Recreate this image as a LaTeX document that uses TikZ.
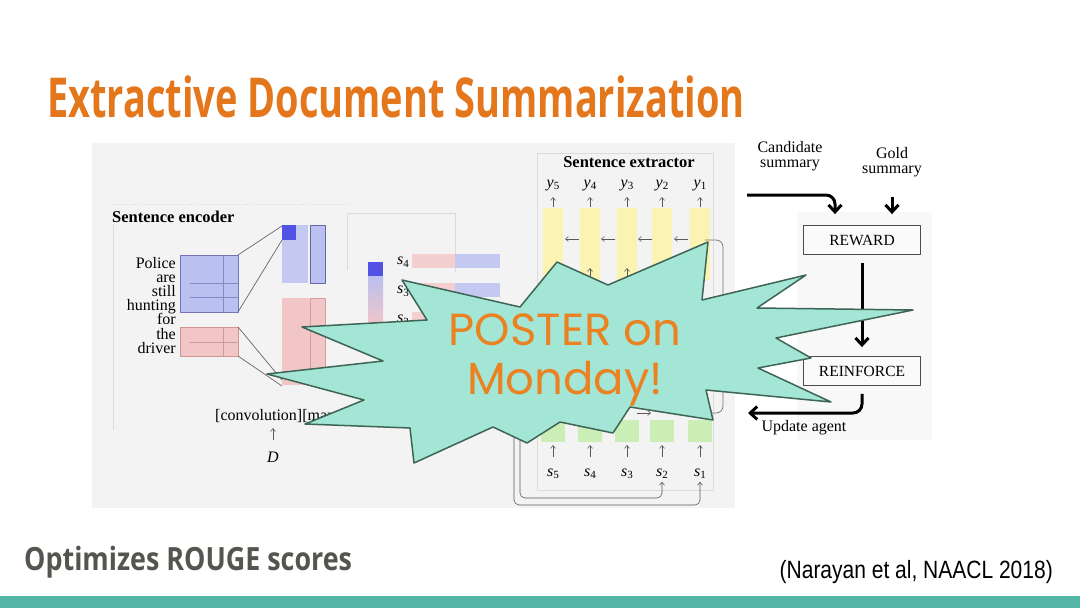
\documentclass[tikz,border=0pt]{standalone}
\usepackage{fontspec}
\usetikzlibrary{arrows.meta}
\setmainfont{Liberation Serif}
\newfontfamily\titlefont{Open Sans}
\newfontfamily\citefont{Liberation Sans}
\newfontfamily\posterfont{Poppins}
\definecolor{titleorange}{RGB}{228,118,28}
\definecolor{slidegray}{RGB}{85,85,80}
\definecolor{barteal}{RGB}{82,181,165}
\definecolor{figbg}{RGB}{243,243,243}
\definecolor{encblue}{RGB}{186,192,240}
\definecolor{encdark}{RGB}{82,82,228}
\definecolor{encred}{RGB}{242,198,198}
\definecolor{extyellow}{RGB}{250,243,178}
\definecolor{extgreen}{RGB}{202,238,182}
\definecolor{starfill}{RGB}{163,230,214}
\definecolor{starline}{RGB}{62,100,86}
\definecolor{posterorange}{RGB}{234,130,34}
\newcommand{\idx}[2]{\textit{#1}\raisebox{-0.35ex}{\fontsize{11}{11}\selectfont #2}}
\tikzset{
  figtext/.style={inner sep=0pt, font=\fontsize{16}{16}\selectfont},
  faint/.style={draw=black!14, line width=0.8pt},
  thinarrow/.style={-{Straight Barb[length=3pt,width=5pt]}, line width=0.6pt, draw=black!65},
  loopline/.style={thinarrow, rounded corners=5pt},
  flowarrow/.style={-{Straight Barb[length=7pt,width=13pt]}, line width=3pt, rounded corners=9pt},
  stagebox/.style={draw=black!70, line width=0.8pt, fill=white!55!figbg, minimum width=117pt,
    minimum height=29pt, inner sep=0pt, font=\fontsize{15.5}{16}\selectfont},
}
\begin{document}
\begin{tikzpicture}[x=1pt, y=-1pt, line join=round]
\useasboundingbox (0,0) rectangle (1080,608);
\fill[white] (0,0) rectangle (1080,608);
% slide title, note and footer
\node (title) [anchor=base west, inner sep=0pt, text=titleorange] at (47,117)
  {\titlefont\bfseries\fontsize{55}{60}\selectfont\scalebox{0.69}[1]{Extractive Document Summarization}};
\node (note) [anchor=base west, inner sep=0pt, text=slidegray] at (24,570)
  {\titlefont\bfseries\fontsize{32}{36}\selectfont\scalebox{0.84}[1]{Optimizes ROUGE scores}};
\node (cite) [anchor=base east, inner sep=0pt] at (1053,578)
  {\citefont\fontsize{25}{28}\selectfont\scalebox{0.84}[1]{(Narayan et al, NAACL 2018)}};
\fill[barteal] (0,596) rectangle (1080,608);
% figure backgrounds
\fill[figbg] (92,143) rectangle (735,508);
\fill[figbg!55!white] (797,212) rectangle (932,440);
% sentence encoder
\node (enclabel) [figtext, anchor=base west, font=\fontsize{16.5}{17}\selectfont\bfseries] at (112,222) {Sentence encoder};
\draw[faint, dotted] (113,204) -- (350,204);
\draw[faint] (113,225) -- (113,430);
\draw[faint] (347,270) -- (347,213) -- (455,213) -- (455,272);
\foreach \w [count=\i] in {Police,are,still,hunting,for,the,driver}
  \node (word\i) [figtext, anchor=base east] at (176,{268+14.2*(\i-1)}) {\w};
\fill[encblue] (180,255) rectangle (238,312);
\draw[blue!35!gray!70] (223,255) -- (223,312) (190,283) -- (238,283) (190,297) -- (238,297);
\draw[blue!50!black!55, line width=0.8pt] (180,255) rectangle (238,312);
\fill[encred] (180,327) rectangle (238,356);
\draw[red!30!gray!60] (223,327) -- (223,356) (190,342) -- (238,342);
\draw[red!40!gray!60, line width=0.8pt] (180,327) rectangle (238,356);
\fill[encblue!85] (282,225) rectangle (308,283);
\fill[encdark] (282,225) rectangle (296,240);
\draw[fill=encblue, draw=blue!45!black!60, line width=0.8pt] (310,225) rectangle (325,283);
\fill[encred] (282,298) rectangle (325,385);
\draw[red!40!gray!55, line width=0.8pt] (310,298) rectangle (325,385);
\draw[black!60, line width=0.7pt] (238,255) -- (282,226) (238,312) -- (282,240)
  (238,327) -- (282,380) (238,356) -- (282,386);
\node (conv) [figtext, anchor=base west] at (215,420) {[convolution][max pooling]};
\node (doc) [figtext, anchor=base] at (273,462) {\textit{D}};
\draw[thinarrow] (273,440) -- (273,428);
% sentence vectors
\fill[encdark] (368,262) rectangle (383,276);
\shade[top color=encblue, bottom color=encred] (368,276) rectangle (383,326);
\foreach \y/\s in {254/4,283/3,312/2}{
  \fill[encred!85] (412,\y) rectangle (455,\y+14);
  \fill[encblue!85] (455,\y) rectangle (500,\y+14);
  \node (vec\s) [figtext, anchor=east] at (409,\y+8) {\idx{s}{\s}};
}
% sentence extractor
\draw[faint] (537,153) rectangle (713,490);
\node (extlabel) [figtext, anchor=base, font=\fontsize{16.5}{17}\selectfont\bfseries] at (629,167) {Sentence extractor};
\foreach \x/\i in {553/5,590/4,627/3,662/2,700/1}{
  \fill[extyellow] (\x-10,208) rectangle (\x+10,280);
  \fill[extgreen] (\x-12,420) rectangle (\x+12,442);
  \node (y\i) [figtext, anchor=base] at (\x,187) {\idx{y}{\i}};
  \node (s\i) [figtext, anchor=base] at (\x,476) {\idx{s}{\i}};
  \draw[thinarrow] (\x,207) -- (\x,197);
  \draw[thinarrow] (\x,280) -- (\x,268);
  \draw[thinarrow] (\x,457) -- (\x,445);
}
\foreach \x in {572,608,645,681} \draw[thinarrow] (\x+7,239) -- (\x-7,239);
\draw[thinarrow] (637,413) -- (651,413);
\draw[black!55, line width=0.7pt, rounded corners=7pt] (705,240) -- (723,240) -- (723,413) -- (705,413);
\draw[loopline] (520,425) |- (s2.south |- 0,498) -- ([yshift=-3pt]s2.south);
\draw[loopline] (514,425) |- (s1.south |- 0,505) -- ([yshift=-3pt]s1.south);
% reward loop
\node (cand) [figtext, anchor=north, align=center] at (790,141) {Candidate\\[-0.5pt]summary};
\node (gold) [figtext, anchor=north, align=center] at (892,147) {Gold\\[-0.5pt]summary};
\node (reward) [stagebox] at (862,240) {REWARD};
\node (reinforce) [stagebox] at (862,371) {REINFORCE};
\node (update) [figtext, anchor=base] at (804,431) {Update agent};
\coordinate (agentout) at (747,195);
\coordinate (agentin) at (748,413);
\draw[flowarrow] (agentout) -| ([xshift=-27pt,yshift=11pt]reward.north);
\draw[flowarrow] (gold.south |- 0,197) -- ([xshift=30pt,yshift=11pt]reward.north);
\draw[flowarrow] ([yshift=-8pt]reward.south) -- ([yshift=9pt]reinforce.north);
\draw[flowarrow] ([yshift=-8pt]reinforce.south) |- (agentin);
% starburst
\filldraw[fill=starfill, draw=starline, line width=1.5pt]
  (402,280) -- (520,307) -- (557,262) -- (608,285) -- (708,242) -- (702,300)
  -- (806,275) -- (757,308) -- (913,310) -- (776,338) -- (811,358) -- (758,368)
  -- (831,402) -- (706,390) -- (713,420) -- (630,407) -- (613,433) -- (560,422)
  -- (527,443) -- (493,427) -- (414,463) -- (410,428) -- (305,424) -- (364,400)
  -- (267,374) -- (383,361) -- (302,327) -- (427,320) -- cycle;
\node (poster) [anchor=base, inner sep=0pt, text=posterorange] at (565,345)
  {\posterfont\fontsize{45}{50}\selectfont POSTER on};
\node (monday) [anchor=base, inner sep=0pt, text=posterorange] at (565,394)
  {\posterfont\fontsize{45}{50}\selectfont Monday!};
\end{tikzpicture}
\end{document}
